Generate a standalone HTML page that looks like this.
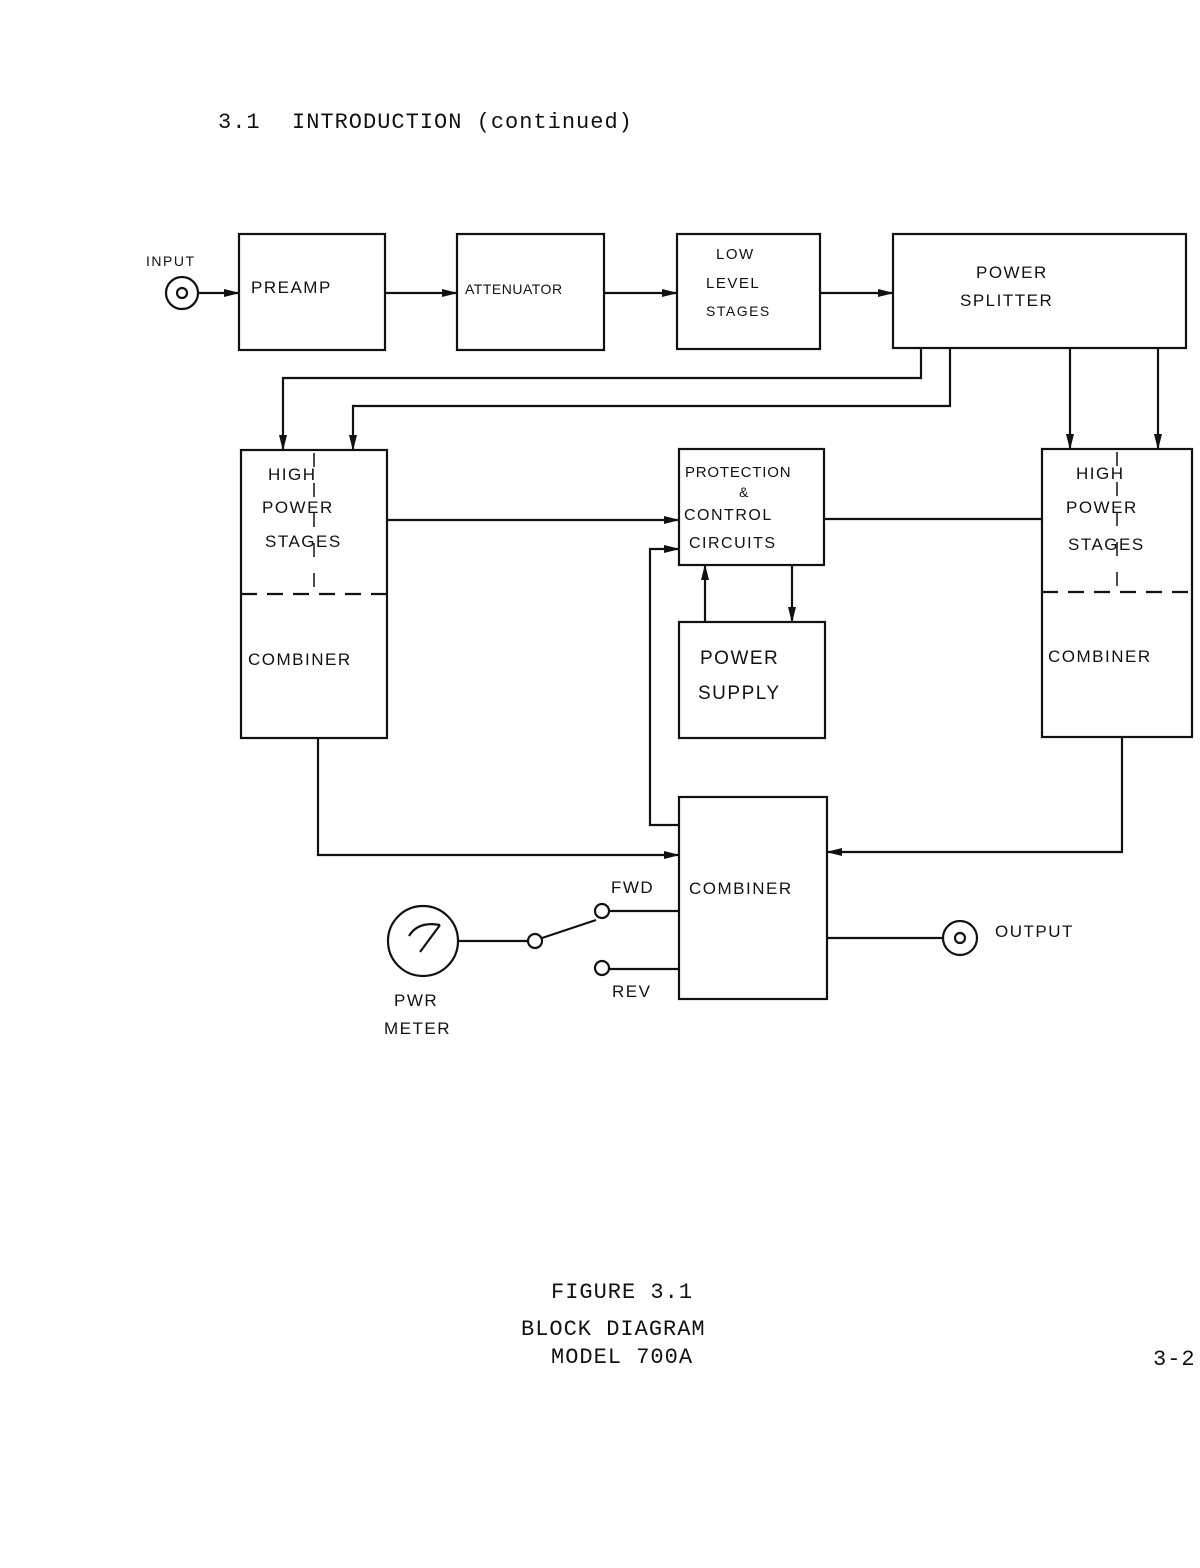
<!DOCTYPE html>
<html><head><meta charset="utf-8"><style>
html,body{margin:0;padding:0;background:#fff;}
svg{display:block}
.h{font-family:"Liberation Sans",sans-serif;font-size:17px;fill:#111;letter-spacing:1.5px}
.m{font-family:"Liberation Mono",monospace;font-size:22px;fill:#111;letter-spacing:1px}
</style></head><body>
<svg width="1200" height="1568" viewBox="0 0 1200 1568" xmlns="http://www.w3.org/2000/svg">
<defs><marker id="a" markerWidth="16" markerHeight="10" refX="15" refY="5" orient="auto" markerUnits="userSpaceOnUse"><path d="M0,1 L16,5 L0,9 Z" fill="#111"/></marker></defs>
<text x="218" y="128" class="m">3.1</text>
<text x="292" y="128" class="m" letter-spacing="1.2">INTRODUCTION (continued)</text>
<g fill="none" stroke="#111" stroke-width="2.2">
<rect x="239" y="234" width="146" height="116"/>
<rect x="457" y="234" width="147" height="116"/>
<rect x="677" y="234" width="143" height="115"/>
<rect x="893" y="234" width="293" height="114"/>
<circle cx="182" cy="293" r="16"/><circle cx="182" cy="293" r="5"/>
<line x1="198" y1="293" x2="239" y2="293" marker-end="url(#a)"/>
<line x1="385" y1="293" x2="457" y2="293" marker-end="url(#a)"/>
<line x1="604" y1="293" x2="677" y2="293" marker-end="url(#a)"/>
<line x1="820" y1="293" x2="893" y2="293" marker-end="url(#a)"/>
<rect x="241" y="450" width="146" height="288"/>
<line x1="241" y1="594" x2="387" y2="594" stroke-dasharray="16,10"/>
<line x1="314" y1="453" x2="314" y2="594" stroke-width="1.5" stroke-dasharray="14,16"/>
<rect x="1042" y="449" width="150" height="288"/>
<line x1="1042" y1="592" x2="1192" y2="592" stroke-dasharray="16,10"/>
<line x1="1117" y1="452" x2="1117" y2="592" stroke-width="1.5" stroke-dasharray="14,16"/>
<rect x="679" y="449" width="145" height="116"/>
<rect x="679" y="622" width="146" height="116"/>
<rect x="679" y="797" width="148" height="202"/>
<polyline points="921,348 921,378 283,378 283,450" marker-end="url(#a)"/>
<polyline points="950,348 950,406 353,406 353,450" marker-end="url(#a)"/>
<line x1="1070" y1="348" x2="1070" y2="449" marker-end="url(#a)"/>
<line x1="1158" y1="348" x2="1158" y2="449" marker-end="url(#a)"/>
<line x1="387" y1="520" x2="679" y2="520" marker-end="url(#a)"/>
<line x1="824" y1="519" x2="1042" y2="519"/>
<polyline points="679,825 650,825 650,549 679,549" marker-end="url(#a)"/>
<line x1="705" y1="622" x2="705" y2="565" marker-end="url(#a)"/>
<line x1="792" y1="565" x2="792" y2="622" marker-end="url(#a)"/>
<polyline points="318,738 318,855 679,855" marker-end="url(#a)"/>
<polyline points="1122,737 1122,852 827,852" marker-end="url(#a)"/>
<circle cx="423" cy="941" r="35"/>
<path d="M420,952 L440,925"/>
<path d="M409,936 Q418,921 440,925"/>
<line x1="458" y1="941" x2="528" y2="941"/>
<circle cx="535" cy="941" r="7"/>
<line x1="542" y1="938" x2="596" y2="920"/>
<circle cx="602" cy="911" r="7"/>
<line x1="609" y1="911" x2="679" y2="911"/>
<circle cx="602" cy="968" r="7"/>
<line x1="609" y1="969" x2="679" y2="969"/>
<line x1="827" y1="938" x2="943" y2="938"/>
<circle cx="960" cy="938" r="17"/><circle cx="960" cy="938" r="5"/>
</g>
<g class="h">
<text x="146" y="266" font-size="14">INPUT</text>
<text x="251" y="293">PREAMP</text>
<text x="465" y="294" font-size="14" letter-spacing="0.5">ATTENUATOR</text>
<text x="716" y="259" font-size="15">LOW</text>
<text x="706" y="288" font-size="15">LEVEL</text>
<text x="706" y="316" font-size="14">STAGES</text>
<text x="976" y="278">POWER</text>
<text x="960" y="306">SPLITTER</text>
<text x="268" y="480">HIGH</text>
<text x="262" y="513">POWER</text>
<text x="265" y="547">STAGES</text>
<text x="248" y="665">COMBINER</text>
<text x="1076" y="479">HIGH</text>
<text x="1066" y="513">POWER</text>
<text x="1068" y="550">STAGES</text>
<text x="1048" y="662">COMBINER</text>
<text x="685" y="477" font-size="15" letter-spacing="0.8">PROTECTION</text>
<text x="739" y="497" font-size="14">&amp;</text>
<text x="684" y="520" font-size="16">CONTROL</text>
<text x="689" y="548" font-size="16">CIRCUITS</text>
<text x="700" y="664" font-size="19">POWER</text>
<text x="698" y="699" font-size="19">SUPPLY</text>
<text x="689" y="894">COMBINER</text>
<text x="611" y="893">FWD</text>
<text x="612" y="997">REV</text>
<text x="394" y="1006">PWR</text>
<text x="384" y="1034">METER</text>
<text x="995" y="937">OUTPUT</text>
</g>
<text x="551" y="1298" class="m" font-size="21">FIGURE 3.1</text>
<text x="521" y="1335" class="m" font-size="21">BLOCK DIAGRAM</text>
<text x="551" y="1363" class="m" font-size="21">MODEL 700A</text>
<text x="1153" y="1365" class="m" font-size="21">3-2</text>
</svg>
</body></html>
